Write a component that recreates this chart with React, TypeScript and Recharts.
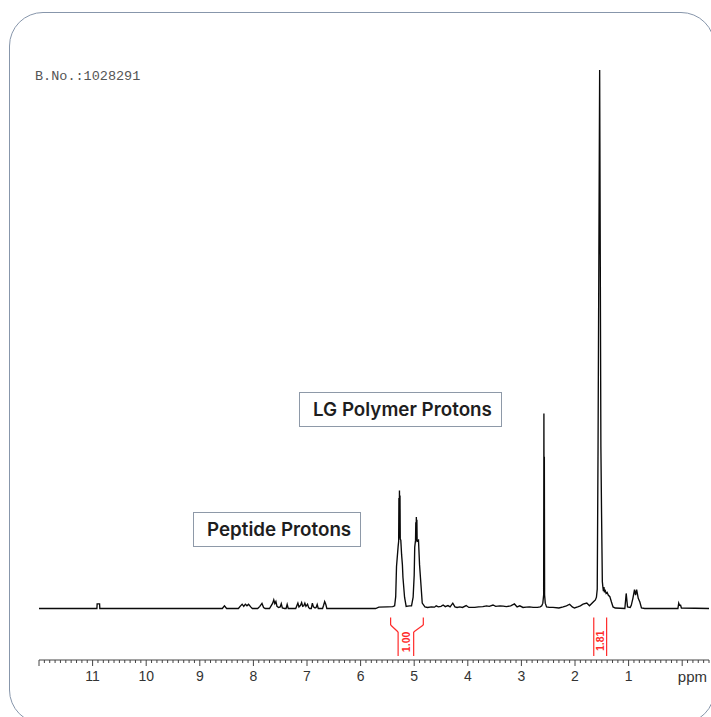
import React from 'react';
import { LineChart, Line, XAxis, YAxis, ReferenceLine, ReferenceDot } from 'recharts';

// axis range (ppm runs right to left)
const PPM_MIN = -0.5;
const PPM_MAX = 12;
// intensity: baseline = 0, tallest peak (1.54 ppm) = 100
const Y_MIN = -9.56;
const Y_MAX = 100;

const majorTicks = [0, 1, 2, 3, 4, 5, 6, 7, 8, 9, 10, 11, 12];
const labelledTicks = [1, 2, 3, 4, 5, 6, 7, 8, 9, 10, 11];

// [ppm, intensity], region by region
const farLeft = [
  [12, 0], [10.92, 0], [10.915, 0.85], [10.87, 0.85], [10.865, 0], [8.62, 0],
];
const aromatic = [
  [8.58, 0], [8.54, 0.5], [8.5, 0],
  [8.28, 0], [8.24, 0.5], [8.21, 0.8], [8.18, 0.4], [8.15, 0.8], [8.12, 0.5], [8.09, 0.8], [8.05, 0.3], [8.02, 0],
  [7.92, 0], [7.88, 0.4], [7.84, 0.95], [7.81, 0.2], [7.78, 0],
  [7.7, 0], [7.67, 0.5], [7.64, 1.0], [7.62, 1.6], [7.6, 0.9], [7.58, 1.3], [7.56, 0.4], [7.53, 0.2],
  [7.5, 0.3], [7.48, 0.9], [7.46, 0.1], [7.42, 0],
  [7.39, 0], [7.37, 0.75], [7.35, 0],
  [7.21, 0], [7.19, 0.5], [7.17, 1.0], [7.15, 0.3], [7.12, 0.6], [7.1, 1.1], [7.08, 0.4], [7.06, 0.5],
  [7.04, 1.0], [7.02, 0.4], [6.99, 0.8], [6.97, 0.2], [6.95, 0],
  [6.92, 0], [6.9, 1.0], [6.88, 0.3], [6.85, 0.1], [6.83, 0.2], [6.81, 0.75], [6.79, 0],
  [6.71, 0], [6.69, 0.6], [6.67, 1.3], [6.65, 0.8], [6.63, 0],
];
const methine = [
  [5.72, 0], [5.66, 0.25], [5.5, 0.3], [5.4, 0.35], [5.365, 0.5], [5.345, 2.2], [5.33, 7.8], [5.3, 11.5],
  [5.29, 12.5], [5.285, 20.5], [5.28, 13], [5.275, 21.9], [5.27, 13.5], [5.265, 21.0], [5.26, 12.8],
  [5.25, 12.7], [5.235, 10], [5.22, 8.1], [5.21, 5.8], [5.18, 2.1], [5.15, 0.4], [5.12, 0.45],
  [5.08, 0.5], [5.05, 0.5], [5.02, 2.1], [5.0, 6.2], [4.99, 11.4], [4.975, 12.7], [4.97, 16.0],
  [4.965, 12.5], [4.96, 17.0], [4.955, 13], [4.95, 16.5], [4.945, 12.5], [4.92, 12.7], [4.9, 8.1],
  [4.88, 5.3], [4.85, 1.0], [4.8, 0.3],
];
const midRegion = [
  [4.75, 0.2], [4.68, 0.3], [4.62, 0.25], [4.59, 0.5], [4.55, 0.3], [4.5, 0.4], [4.46, 0.65], [4.42, 0.35],
  [4.37, 0.55], [4.33, 0.3], [4.28, 1.0], [4.24, 0.3], [4.2, 0.2], [4.15, 0.3], [4.1, 0.2], [4.03, 0.55],
  [3.98, 0.2], [3.92, 0.2], [3.87, 0.2], [3.8, 0.3], [3.72, 0.35], [3.65, 0.5], [3.6, 0.4], [3.53, 0.65],
  [3.48, 0.4], [3.4, 0.5], [3.34, 0.45], [3.28, 0.35], [3.2, 0.5], [3.13, 0.85], [3.08, 0.3], [3.03, 0.5],
  [2.97, 0.2], [2.91, 0.25], [2.85, 0.3], [2.78, 0.2], [2.7, 0.2], [2.65, 0.3],
];
const solvent = [
  [2.62, 0.5], [2.6, 1.0], [2.585, 2.5], [2.58, 36.2], [2.576, 5], [2.572, 28.2], [2.567, 2.5],
  [2.555, 1.0], [2.53, 0.3],
];
const methyl = [
  [2.48, 0.2], [2.41, 0.2], [2.3, 0.1], [2.22, 0.3], [2.16, 0.5], [2.1, 0.8], [2.05, 0.3], [2.01, 0.1],
  [1.95, 0.3], [1.9, 0.5], [1.85, 0.8], [1.78, 1.0], [1.73, 0.5], [1.66, 1.2], [1.62, 1.6], [1.6, 2.1],
  [1.585, 3.6], [1.57, 30], [1.54, 100], [1.517, 30], [1.505, 18], [1.49, 5], [1.48, 4.0], [1.47, 3.2],
  [1.46, 4.0], [1.45, 3.0], [1.44, 3.5], [1.42, 2.8], [1.4, 3.0], [1.38, 2.5], [1.35, 2.2], [1.32, 1.2],
  [1.29, 0.3], [1.25, 0.1],
];
const farRight = [
  [1.07, 0], [1.045, 2.8], [1.02, 0.3], [0.97, 0.2], [0.95, 0.6], [0.92, 1.9], [0.89, 3.5], [0.87, 2.5],
  [0.85, 3.5], [0.82, 1.9], [0.79, 1.2], [0.76, 0.1], [0.7, 0], [0.08, 0], [0.065, 1.0], [0.05, 0.6],
  [0.03, 0.6], [0.015, 0.1], [-0.5, 0],
];

// integral brackets (ppm, intensity units) and their values
const integralPaths = [
  [[5.44, -1.67], [5.44, -3.06], [5.3, -4.36], [5.3, -8.8]],
  [[4.83, -1.67], [4.83, -3.06], [5.01, -4.36], [5.01, -8.8]],
  [[1.65, -1.67], [1.65, -8.8]],
  [[1.41, -1.67], [1.41, -8.8]],
];
const integralValues = ['1.00', '1.81'];
const integralAt = [[5.15, -6.2], [1.53, -6.0]];

const spectrum = [...farLeft, ...aromatic, ...methine, ...midRegion, ...solvent, ...methyl, ...farRight]
  .map(([ppm, i]) => ({ ppm, i }));

const minorTicks: number[] = [];
for (let k = PPM_MIN * 10; k <= PPM_MAX * 10; k++) minorTicks.push(k / 10);

const RED = '#ff2a2a';

const AxisTick = (props: any) => {
  const { x, y, payload } = props;
  const v = payload.value;
  const major = majorTicks.some((m) => Math.abs(m - v) < 1e-6);
  const label = labelledTicks.find((m) => Math.abs(m - v) < 1e-6);
  return (
    <g>
      <line x1={x} x2={x} y1={y} y2={y + (major ? 6 : 3)} stroke="#444" strokeWidth={1} />
      {label !== undefined && (
        <text x={x} y={y + 21} textAnchor="middle" fontSize={14} fill="#333"
          fontFamily="'Liberation Sans', Arial, sans-serif">
          {label}
        </text>
      )}
    </g>
  );
};

const boxStyle: React.CSSProperties = {
  position: 'absolute',
  boxSizing: 'border-box',
  border: '1.5px solid #8e99a8',
  background: '#fff',
  fontFamily: 'Inter, sans-serif',
  fontWeight: 600,
  fontSize: 18.8,
  color: '#1e1e1e',
  display: 'flex',
  alignItems: 'center',
  whiteSpace: 'nowrap',
};

export default function App() {
  return (
    <div style={{ position: 'absolute', left: 0, top: 0, width: 711, height: 717, overflow: 'hidden', background: '#fff' }}>
      <div style={{
        position: 'absolute', left: 9, top: 12, width: 706, height: 712, boxSizing: 'border-box',
        border: '1.5px solid #8796ab', borderRadius: 34,
      }} />
      <div style={{ position: 'absolute', left: 0, top: 0 }}>
        <LineChart width={711} height={717} data={spectrum} margin={{ top: 70, right: 2, left: 39, bottom: 0 }}>
          <XAxis
            dataKey="ppm"
            type="number"
            domain={[PPM_MIN, PPM_MAX]}
            reversed
            allowDataOverflow
            ticks={minorTicks}
            interval={0}
            tickSize={0}
            tickMargin={0}
            tickLine={false}
            tick={<AxisTick />}
            axisLine={{ stroke: '#444', strokeWidth: 1 }}
            height={57}
            label={{
              content: (p: any) => (
                <text x={p.viewBox.x + p.viewBox.width - 2} y={p.viewBox.y + 22} textAnchor="end"
                  fontSize={15} fill="#333" fontFamily="'Liberation Sans', Arial, sans-serif">
                  ppm
                </text>
              ),
            }}
          />
          <YAxis hide width={0} type="number" domain={[Y_MIN, Y_MAX]} allowDataOverflow />
          <Line
            dataKey="i"
            type="linear"
            stroke="#0a0a0a"
            strokeWidth={1.35}
            dot={false}
            activeDot={false}
            isAnimationActive={false}
          />
          {integralPaths.flatMap((path, pi) =>
            path.slice(1).map((pt, si) => (
              <ReferenceLine
                key={`int-${pi}-${si}`}
                segment={[{ x: path[si][0], y: path[si][1] }, { x: pt[0], y: pt[1] }]}
                stroke={RED}
                strokeWidth={1.2}
              />
            )),
          )}
          {integralValues.map((v, k) => (
            <ReferenceDot
              key={`iv-${k}`}
              x={integralAt[k][0]}
              y={integralAt[k][1]}
              r={1}
              fill="none"
              stroke="none"
              label={{
                value: v,
                position: 'center',
                angle: -90,
                fill: RED,
                fontSize: 10.5,
                fontWeight: 'bold',
                fontFamily: "'Liberation Sans', Arial, sans-serif",
              }}
            />
          ))}
        </LineChart>
      </div>
      <div style={{
        position: 'absolute', left: 35, top: 70, fontFamily: "'Liberation Mono', 'Courier New', monospace",
        fontSize: 13.5, lineHeight: '14px', color: '#555',
      }}>
        B.No.:1028291
      </div>
      <div style={{ ...boxStyle, left: 299, top: 392, width: 203, height: 35, paddingLeft: 13 }}>
        LG Polymer Protons
      </div>
      <div style={{ ...boxStyle, left: 193, top: 512, width: 168, height: 35, paddingLeft: 13 }}>
        Peptide Protons
      </div>
    </div>
  );
}
